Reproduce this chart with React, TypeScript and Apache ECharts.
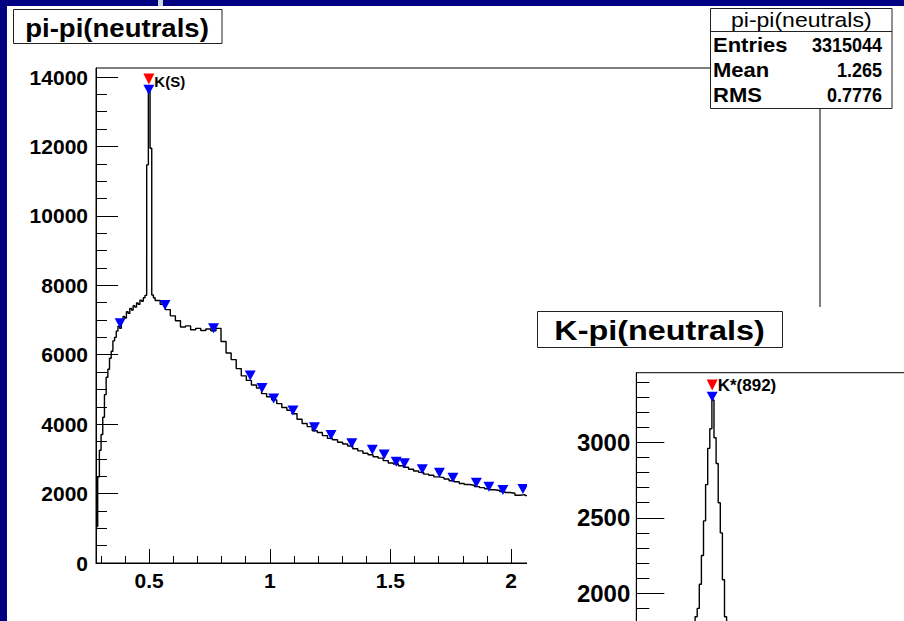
import React, { useEffect, useRef } from "react";
import * as echarts from "echarts";

const FONT = "'Liberation Sans', Arial, Helvetica, sans-serif";

// ---------- pi-pi(neutrals) histogram ----------
const ppFineStart = 0.28;
const ppFineWidth = 0.007;
const ppFineCounts = [
  1050, 2480, 3250, 3700, 4200, 4850, 5350, 5580, 5900, 6100, 6400, 6500, 6680, 6820, 6760,
  7010, 7100, 7060, 7240, 7190, 7330, 7290, 7410, 7370, 7490, 7450, 7570, 7540, 7640, 7710,
  11470, 13630, 11950, 7720, 7640,
];
const ppCoarseStart = 0.525;
const ppCoarseWidth = 0.021;
const ppCoarseCounts = [
  7560, 7450, 7300, 7120, 6980, 6800, 6830, 6720, 6760, 6700,
  6740, 6690, 6760, 6380, 6050, 5860, 5600, 5390, 5260, 5130,
  5040, 4880, 4790, 4700, 4590, 4480, 4400, 4300, 4140, 4020,
  3930, 3810, 3760, 3670, 3590, 3550, 3480, 3430, 3370, 3290,
  3230, 3160, 3120, 3060, 3020, 2950, 2880, 2850, 2800, 2760,
  2700, 2650, 2610, 2560, 2530, 2480, 2460, 2420, 2370, 2340,
  2290, 2260, 2240, 2200, 2170, 2140, 2110, 2090, 2060, 2030,
  2010, 1950, 1970, 1940, 1920,
];
const ppPeakX = [0.38, 0.499, 0.566, 0.767, 0.919, 0.968, 1.016, 1.096, 1.185, 1.254, 1.34, 1.425, 1.474, 1.524, 1.558, 1.632, 1.703, 1.759, 1.856, 1.908, 1.966, 2.049];
const ppPeakY = [6906, 13630, 7433, 6762, 5402, 5042, 4739, 4394, 3913, 3688, 3449, 3264, 3126, 2918, 2872, 2700, 2602, 2457, 2313, 2198, 2103, 2132];
const ppSelected = { name: "K(S)", x: 0.499, y: 13940 };

const ppXLabels = [0.5, 1, 1.5, 2];
const ppXMajor = [0.5, 1, 1.5, 2, 2.5, 3];
const ppXMinor = [0.3, 0.4, 0.6, 0.7, 0.8, 0.9, 1.1, 1.2, 1.3, 1.4, 1.6, 1.7, 1.8, 1.9, 2.1, 2.2, 2.3, 2.4, 2.6, 2.7, 2.8, 2.9, 3.1, 3.2];
const ppYMajor = [0, 2000, 4000, 6000, 8000, 10000, 12000, 14000];
const ppYMinor = [500, 1000, 1500, 2500, 3000, 3500, 4500, 5000, 5500, 6500, 7000, 7500, 8500, 9000, 9500, 10500, 11000, 11500, 12500, 13000, 13500];

const ppStats = [
  ["Entries", "3315044"],
  ["Mean", "1.265"],
  ["RMS", "0.7776"],
];

// ---------- K-pi(neutrals) histogram ----------
const kpStart = 0.816;
const kpWidth = 0.008;
const kpCounts = [1700, 1845, 1900, 2060, 2250, 2480, 2720, 2960, 3090, 3280, 3030, 2860, 2600, 2400, 2090, 1845, 1750];
const kpPeakX = [0.889];
const kpPeakY = [3302];
const kpSelected = { name: "K*(892)", x: 0.889, y: 3380 };
const kpYLabels = [2000, 2500, 3000];
const kpYMinor = [1600, 1700, 1800, 1900, 2100, 2200, 2300, 2400, 2600, 2700, 2800, 2900, 3100, 3200, 3300, 3400];

const DOWN_TRI = "path://M0 0L2 0L1 2Z";

function histPoints(start: number, width: number, counts: number[]) {
  const pts: number[][] = counts.map((c, i) => [start + i * width, c]);
  pts.push([start + counts.length * width, counts[counts.length - 1]]);
  return pts;
}

function txt(x: number, y: number, text: string, font: string, align: string, scaleX = 1, z = 100) {
  return {
    type: "text",
    x,
    y,
    scaleX,
    z,
    silent: true,
    style: {
      text,
      font,
      fill: "#000",
      align,
      textAlign: align,
      verticalAlign: "middle",
      textVerticalAlign: "middle",
    },
  };
}

function tickAxis(dim: "x" | "y", min: number, max: number, major: number[], minor: number[], labels: number[], majLen: number, minLen: number, fontSize: number, margin: number, showLine: boolean) {
  const position = dim === "x" ? "bottom" : "left";
  return [
    {
      type: "value",
      gridIndex: 0,
      min,
      max,
      position,
      axisLine: { show: showLine, onZero: false, lineStyle: { color: "#000", width: 1 } },
      axisTick: { show: major.length > 0, inside: true, length: majLen, customValues: major, lineStyle: { color: "#000", width: 1 } },
      axisLabel: {
        show: labels.length > 0,
        customValues: labels,
        margin,
        color: "#000",
        fontFamily: FONT,
        fontWeight: "bold",
        fontSize,
        formatter: (v: number) => String(v),
      },
      splitLine: { show: false },
    },
    {
      type: "value",
      gridIndex: 0,
      min,
      max,
      position,
      axisLine: { show: false, onZero: false },
      axisTick: { show: minor.length > 0, inside: true, length: minLen, customValues: minor, lineStyle: { color: "#000", width: 1 } },
      axisLabel: { show: false },
      splitLine: { show: false },
    },
  ];
}

function markerSeries(xs: number[], ys: number[]) {
  return {
    type: "scatter",
    xAxisIndex: 0,
    yAxisIndex: 0,
    data: xs.map((x, i) => [x, ys[i]]),
    symbol: DOWN_TRI,
    symbolSize: [11, 10],
    itemStyle: { color: "#0000ff", opacity: 1 },
    z: 4,
  };
}

function selectedSeries(sel: { name: string; x: number; y: number }, fontSize: number, dy: number) {
  return {
    type: "scatter",
    xAxisIndex: 0,
    yAxisIndex: 0,
    data: [{ name: sel.name, value: [sel.x, sel.y] }],
    symbol: DOWN_TRI,
    symbolSize: [11, 11],
    itemStyle: { color: "#ff0000", opacity: 1 },
    label: { show: true, position: "right", distance: 0, offset: [0, dy], formatter: "{b}", color: "#000", opacity: 1, fontFamily: FONT, fontWeight: "bold", fontSize },
    z: 5,
  };
}

export default function App() {
  const ref1 = useRef<HTMLDivElement>(null);
  const ref2 = useRef<HTMLDivElement>(null);

  useEffect(() => {
    const c1 = echarts.init(ref1.current!, null, { renderer: "svg" });
    const c2 = echarts.init(ref2.current!, null, { renderer: "svg" });

    const ppData = histPoints(ppFineStart, ppFineWidth, ppFineCounts).slice(0, -1).concat(histPoints(ppCoarseStart, ppCoarseWidth, ppCoarseCounts));

    const opt1: any = {
      animation: false,
      backgroundColor: "#ffffff",
      grid: { left: 96, top: 68, width: 724, height: 495, show: true, borderColor: "#000", borderWidth: 1, backgroundColor: "transparent", outerBoundsMode: "none", containLabel: false },
      xAxis: tickAxis("x", 0.28, 3.28, ppXMajor, ppXMinor, ppXLabels, 14, 7, 21, 7, true),
      yAxis: tickAxis("y", 0, 14260, ppYMajor, ppYMinor, ppYMajor, 22, 11, 21, 8, true),
      series: [
        {
          type: "line",
          xAxisIndex: 0,
          yAxisIndex: 0,
          data: ppData,
          step: "end",
          symbol: "none",
          showSymbol: false,
          lineStyle: { color: "#000", width: 1.4 },
          silent: true,
          z: 2,
        },
        markerSeries(ppPeakX, ppPeakY),
        selectedSeries(ppSelected, 15, 2.5),
      ],
      graphic: {
        elements: [
          { type: "rect", z: 100, silent: true, shape: { x: 0, y: 0, width: 904, height: 6 }, style: { fill: "#000080" } },
          { type: "rect", z: 100, silent: true, shape: { x: 0, y: 0, width: 7, height: 621 }, style: { fill: "#000080" } },
          { type: "rect", z: 101, silent: true, shape: { x: 158, y: 0, width: 5, height: 6 }, style: { fill: "#c8d8dc" } },
          { type: "rect", z: 100, silent: true, shape: { x: 13.5, y: 9.5, width: 208.5, height: 34 }, style: { fill: "#fff", stroke: "#222", lineWidth: 1 } },
          txt(117, 28.5, "pi-pi(neutrals)", `bold 26px ${FONT}`, "center", 1.06, 101),
          { type: "rect", z: 100, silent: true, shape: { x: 710.5, y: 8.5, width: 181.5, height: 100 }, style: { fill: "#fff", stroke: "#222", lineWidth: 1 } },
          { type: "line", z: 101, silent: true, shape: { x1: 710.5, y1: 31.5, x2: 892, y2: 31.5 }, style: { stroke: "#222", lineWidth: 1 } },
          txt(801.3, 20, "pi-pi(neutrals)", `20px ${FONT}`, "center", 1.15, 101),
          ...ppStats.map((r, i) => txt(713, 45 + i * 25, r[0], `bold 20px ${FONT}`, "left", 1.1, 101)),
          ...ppStats.map((r, i) => txt(882, 45 + i * 25, r[1], `bold 20px ${FONT}`, "right", 0.9, 101)),
        ],
      },
    };

    const opt2: any = {
      animation: false,
      backgroundColor: "#ffffff",
      grid: { left: 109.3, top: 65.7, width: 420, height: 296.1, show: true, borderColor: "#000", borderWidth: 1, backgroundColor: "transparent", outerBoundsMode: "none", containLabel: false },
      xAxis: tickAxis("x", 0.6, 2.2, [], [], [], 14, 7, 21, 7, true),
      yAxis: tickAxis("y", 1500, 3461, [1500, ...kpYLabels], kpYMinor, kpYLabels, 28, 13, 24, 6, true),
      series: [
        {
          type: "line",
          xAxisIndex: 0,
          yAxisIndex: 0,
          data: histPoints(kpStart, kpWidth, kpCounts),
          step: "end",
          symbol: "none",
          showSymbol: false,
          lineStyle: { color: "#000", width: 1.4 },
          silent: true,
          z: 2,
        },
        markerSeries(kpPeakX, kpPeakY),
        selectedSeries(kpSelected, 17, 1),
      ],
      graphic: {
        elements: [
          { type: "rect", z: 100, silent: true, shape: { x: 10.5, y: 4.5, width: 245, height: 36 }, style: { fill: "#fff", stroke: "#222", lineWidth: 1 } },
          txt(132.5, 23, "K-pi(neutrals)", `bold 27px ${FONT}`, "center", 1.2, 101),
        ],
      },
    };

    c1.setOption(opt1);
    c2.setOption(opt2);
    return () => {
      c1.dispose();
      c2.dispose();
    };
  }, []);

  return (
    <div style={{ position: "fixed", left: 0, top: 0, width: 904, height: 621, overflow: "hidden", background: "#fff" }}>
      <div ref={ref1} style={{ position: "absolute", left: 0, top: 0, width: 904, height: 621 }} />
      <div ref={ref2} style={{ position: "absolute", left: 527, top: 307, width: 377, height: 314, overflow: "hidden" }} />
    </div>
  );
}
